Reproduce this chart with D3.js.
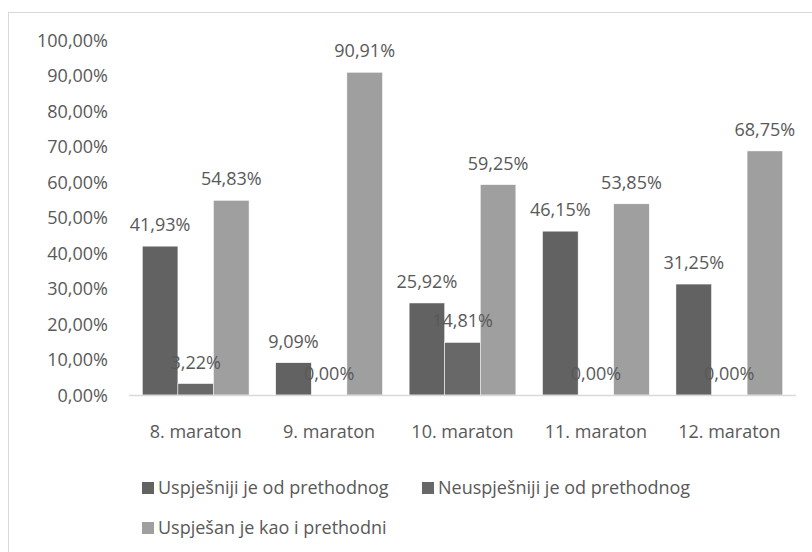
<!DOCTYPE html>
<html>
<head>
<meta charset="utf-8" />
<title>maratoni</title>
<script src="https://cdn.jsdelivr.net/npm/d3@7"></script>
<style>
body{margin:0;background:#fff;overflow:hidden;}
text{font-family:"Open Sans",sans-serif;fill:#595959;}
</style>
</head>
<body>
<svg id="chart" width="812" height="552"></svg>
<script>
// podaci
var categories = ["8. maraton","9. maraton","10. maraton","11. maraton","12. maraton"];
var seriesNames = ["Uspješniji je od prethodnog","Neuspješniji je od prethodnog","Uspješan je kao i prethodni"];
var uspjesniji = [41.93, 9.09, 25.92, 46.15, 31.25];
var neuspjesniji = [3.22, 0.00, 14.81, 0.00, 0.00];
var isti = [54.83, 90.91, 59.25, 53.85, 68.75];
var yTicks = [0,10,20,30,40,50,60,70,80,90,100];
var colors = ["#626262","#686868","#9f9f9f"];

var series = [uspjesniji, neuspjesniji, isti];
var svg = d3.select("#chart");

// okvir
svg.append("rect").attr("x",8.5).attr("y",12.5).attr("width",820).attr("height",560)
	.attr("fill","none").attr("stroke","#d9d9d9");

var plotLeft = 129, plotRight = 796, plotTop = 40, plotBottom = 395;
var x0 = d3.scaleBand().domain(categories).range([plotLeft,plotRight]).paddingInner(0.2).paddingOuter(0.1);
var x1 = d3.scaleBand().domain([0,1,2]).range([0,x0.bandwidth()]);
var y = d3.scaleLinear().domain([0,100]).range([plotBottom,plotTop]);

function fmt(v){ return v.toFixed(2).replace(".",",")+"%"; }

// y os
var yAxis = svg.append("g").attr("transform","translate(108,0)")
	.call(d3.axisLeft(y).tickValues(yTicks).tickSize(0).tickPadding(0).tickFormat(fmt));
yAxis.select(".domain").remove();
yAxis.selectAll("text").attr("font-size","18px").attr("fill","#595959").attr("dy","0.35em")
	.style("font-family","'Open Sans',sans-serif");

// stupci
var groups = svg.append("g").selectAll("g").data(categories).enter().append("g")
	.attr("transform",function(d){ return "translate("+x0(d)+",0)"; });
groups.each(function(cat,ci){
	var g = d3.select(this);
	for(var s=0;s<3;s++){
		var v = series[s][ci];
		g.append("rect").attr("x",x1(s)).attr("y",y(v))
			.attr("width",x1.bandwidth()).attr("height",plotBottom-y(v))
			.attr("fill",colors[s]).attr("stroke","#ffffff").attr("stroke-width",0.5);
	}
});
// oznake vrijednosti
groups.each(function(cat,ci){
	var g = d3.select(this);
	for(var s=0;s<3;s++){
		var v = series[s][ci];
		g.append("text").attr("x",x1(s)+x1.bandwidth()/2).attr("y",y(v)-15)
			.attr("text-anchor","middle").attr("font-size","18px").text(fmt(v));
	}
});

// x os
svg.append("line").attr("x1",plotLeft).attr("x2",plotRight).attr("y1",plotBottom+0.5).attr("y2",plotBottom+0.5)
	.attr("stroke","#d9d9d9").attr("stroke-width",1.5);
svg.append("g").selectAll("text").data(categories).enter().append("text")
	.attr("x",function(d){ return x0(d)+x0.bandwidth()/2; }).attr("y",438)
	.attr("text-anchor","middle").attr("font-size","18px").text(function(d){ return d; });

// legenda
var legendPos = [[142,488],[422,488],[142,528]];
var legend = svg.append("g").selectAll("g").data(seriesNames).enter().append("g")
	.attr("transform",function(d,i){ return "translate("+legendPos[i][0]+","+legendPos[i][1]+")"; });
legend.append("rect").attr("x",0).attr("y",-6).attr("width",12).attr("height",12)
	.attr("fill",function(d,i){ return colors[i]; });
legend.append("text").attr("x",16).attr("y",6).attr("font-size","18px").text(function(d){ return d; });
</script>
</body>
</html>
